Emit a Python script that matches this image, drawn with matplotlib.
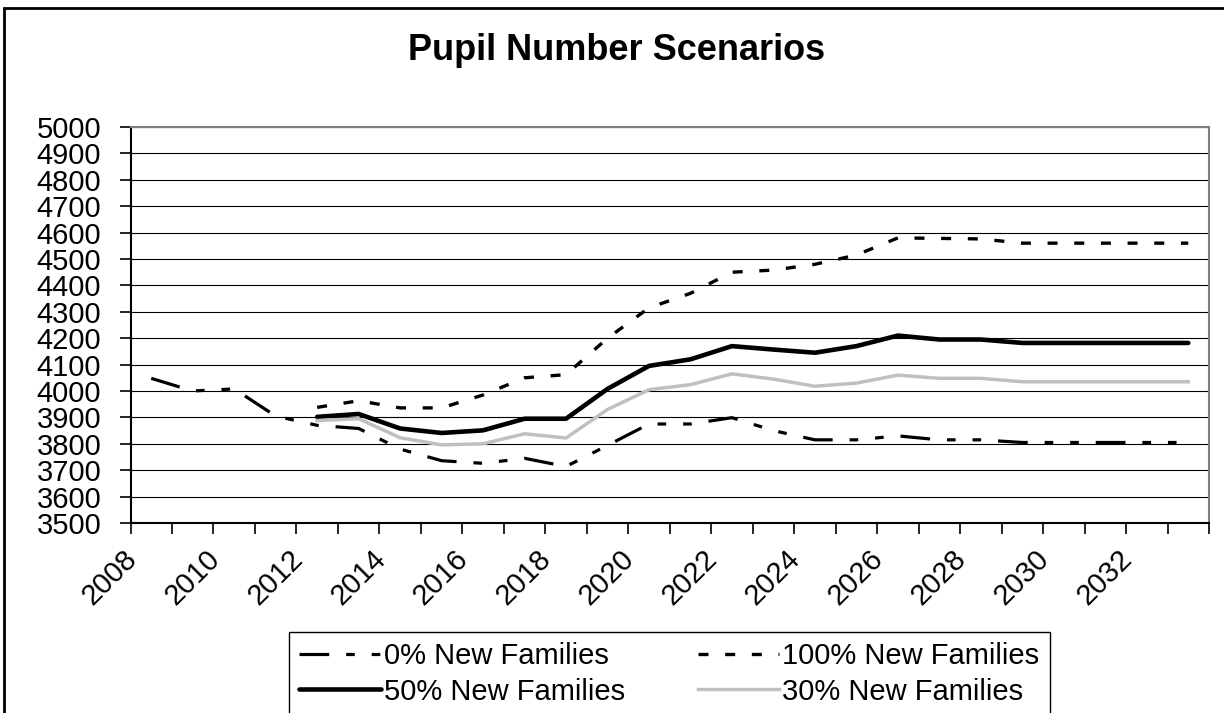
import numpy as np
import matplotlib
matplotlib.use("Agg")
import matplotlib.pyplot as plt
import matplotlib.transforms as mtransforms
from matplotlib.patches import Rectangle

plt.rcParams['font.family'] = ['Liberation Sans', 'DejaVu Sans']

years = list(range(2008, 2034))
nan = np.nan

# pupil projections per scenario, one value per year
new0 = [4048, 4000, 4008, 3905, 3870, 3858, 3780, 3736, 3726, 3745, 3714, 3794, 3875,
        3875, 3899, 3850, 3815, 3815, 3830, 3815, 3815, 3805, 3805, 3805, 3805, 3805]
new100 = [nan, nan, nan, nan, 3938, 3963, 3936, 3936, 3985, 4050, 4062, 4200, 4315,
          4370, 4450, 4458, 4480, 4515, 4580, 4578, 4576, 4560, 4560, 4560, 4560, 4560]
new50 = [nan, nan, nan, nan, 3902, 3913, 3858, 3841, 3851, 3895, 3895, 4008, 4095,
         4120, 4170, 4157, 4145, 4170, 4210, 4195, 4195, 4182, 4182, 4182, 4182, 4182]
new30 = [nan, nan, nan, nan, 3888, 3895, 3823, 3796, 3800, 3838, 3822, 3930, 4005,
         4024, 4065, 4045, 4018, 4030, 4060, 4048, 4048, 4035, 4035, 4035, 4035, 4035]

W, H = 1224, 713
fig = plt.figure(figsize=(W / 100, H / 100), dpi=100)
ax = fig.add_axes([130.5 / W, 1 - 523 / H, (1209 - 130.5) / W, (523 - 127) / H])

x = np.arange(len(years)) + 0.5

l0, = ax.plot(x, new0, color='black', lw=2.3, dashes=(9.3, 5.3, 2.7, 5.3, 2.7, 5.3),
              label='0% New Families')
l100, = ax.plot(x, new100, color='black', lw=2.4, dashes=(3, 5), label='100% New Families')
l50, = ax.plot(x, new50, color='black', lw=3.3, solid_capstyle='round',
               label='50% New Families')
l30, = ax.plot(x, new30, color='#c0c0c0', lw=2.5, label='30% New Families')

ax.set_xlim(0, len(years))
ax.set_ylim(3500, 5000)
ax.set_yticks(np.arange(3500, 5001, 100))
ax.grid(axis='y', color='black', lw=0.8)
ax.set_axisbelow(True)

# tick marks on category boundaries, year labels on every other category centre
ax.set_xticks(np.arange(len(years) + 1))
ax.set_xticklabels([])
ax.set_xticks(x[::2], minor=True)
ax.set_xticklabels([str(y) for y in years[::2]], minor=True, rotation=45,
                   ha='right', va='center', rotation_mode='anchor', fontsize=21)
ax.tick_params(axis='x', which='minor', length=0, pad=23)
ax.tick_params(axis='x', which='major', length=8, width=1.2, direction='out')
ax.tick_params(axis='y', length=8, width=1.2, direction='out', labelsize=21, pad=13)
offset = mtransforms.ScaledTranslation(-0.19, 0, fig.dpi_scale_trans)
for lab in ax.get_xticklabels(minor=True):
    lab.set_transform(lab.get_transform() + offset)

for side in ['top', 'right']:
    ax.spines[side].set_color('#808080')
    ax.spines[side].set_linewidth(1.5)
for side in ['left', 'bottom']:
    ax.spines[side].set_color('black')
    ax.spines[side].set_linewidth(1.5)

fig.text(617 / W, 1 - 50 / H, 'Pupil Number Scenarios', ha='center', va='center',
         fontsize=26, fontweight='bold')

leg = fig.legend([l0, l50, l100, l30],
                 ['0% New Families', '50% New Families', '100% New Families', '30% New Families'],
                 ncol=2, loc='upper left', bbox_to_anchor=(289 / W, 1 - 632 / H),
                 borderaxespad=0, fontsize=21, handlelength=2.8, handletextpad=0.1,
                 columnspacing=2.5, labelspacing=0.25, borderpad=0.35,
                 fancybox=False, framealpha=1, edgecolor='black')
leg.get_frame().set_linewidth(1.0)

# outer chart border
fig.add_artist(Rectangle((4 / W, -0.1), 1.2, 1.1 - 8 / H, transform=fig.transFigure,
                         fill=False, edgecolor='black', lw=2))

fig.savefig('out.png', dpi=100)
